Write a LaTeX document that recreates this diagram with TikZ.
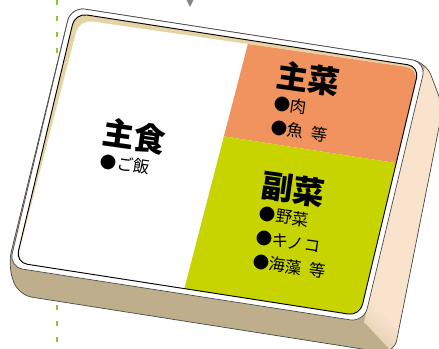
\documentclass[tikz,border=0pt]{standalone}
\usepackage{fontspec}
\newfontfamily\jpfont{Noto Sans CJK JP}
\usetikzlibrary{arrows.meta}

\definecolor{rimline}{HTML}{4A4A4A}
\definecolor{wallcol}{HTML}{E6D3A3}
\definecolor{bottomcol}{HTML}{BFAE8C}
\definecolor{sidecol}{HTML}{FAE3CC}
\definecolor{maincol}{HTML}{F0935E}
\definecolor{sidedishcol}{HTML}{C8D400}
\definecolor{guidecol}{HTML}{8CC63F}
\definecolor{arrowgray}{HTML}{858585}

\pgfdeclareverticalshading{sideshade}{100bp}{color(0bp)=(bottomcol); color(6bp)=(bottomcol); color(26bp)=(sidecol); color(100bp)=(sidecol)}

\tikzset{
  head/.style={font=\jpfont\bfseries\fontsize{27}{27}\selectfont, inner sep=0pt, anchor=west},
  item/.style={font=\jpfont\fontsize{14}{14}\selectfont, inner sep=0pt, anchor=west},
  outline/.style={draw=rimline, line width=0.6pt},
}
\newcommand\etcgap{\hspace{0.45em}}

\begin{document}
\begin{tikzpicture}[x=0.03cm, y=-0.03cm, line join=round]
  \useasboundingbox (0,0) rectangle (439,349);
  \clip (0,0) rectangle (439,349);

  % guide line and arrow behind the box
  \coordinate (guidetop) at (57,0);
  \coordinate (guidebot) at (57,349);
  \draw[guidecol, line width=1.7pt, dash pattern=on 4.3pt off 9.4pt] (guidetop) -- (guidebot);
  \coordinate (arrowtail) at (190,-30);
  \coordinate (arrowtip) at (190,7);
  \draw[arrowgray, line width=1pt, -{Triangle[length=6pt,width=5.5pt]}] (arrowtail) -- (arrowtip);

  % box body
  \coordinate (bodyTL) at (71,7);
  \coordinate (bodyTR) at (426,62);
  \coordinate (bodyRR) at (443,107);
  \coordinate (bodyBR) at (394,354);
  \coordinate (bodyBL) at (18,295);
  \coordinate (bodyLL) at (8,265);
  \coordinate (rimBR) at (364,322);
  \begin{scope}
    \clip[rounded corners=12pt] (bodyTL) -- (bodyTR) -- (bodyRR) -- (bodyBR) -- (bodyBL) -- (bodyLL) -- cycle;
    \fill[bottomcol] (0,0) rectangle (460,360);
    \shade[shading=sideshade, shading angle=-40] (bodyTR) -- (bodyRR) -- (bodyBR) -- (rimBR) -- cycle;
  \end{scope}
  \draw[outline, rounded corners=12pt] (bodyTL) -- (bodyTR) -- (bodyRR) -- (bodyBR) -- (bodyBL) -- (bodyLL) -- cycle;

  % rim and compartments
  \begin{scope}[shift={(71,7)}, x={(10.65cm,-1.65cm)}, y={(-1.86cm,-7.8cm)}]
    \filldraw[fill=white, outline, rounded corners=12pt] (0,0) -- (1,0) -- (1,1) -- (0,1) -- cycle;
    \fill[wallcol, rounded corners=10pt] (0.0154,0.0206) -- (0.9846,0.0206) -- (0.9846,0.9794) -- (0.0154,0.9794) -- cycle;
    \begin{scope}
      \clip[rounded corners=11pt] (0.031,0.042) -- (0.9846,0.029) -- (0.9846,0.9794) -- (0.017,0.9794) -- cycle;
      \fill[white] (-0.1,-0.1) -- (1.1,-0.1) -- (1.1,1.1) -- (-0.1,1.1) -- cycle;
      \fill[maincol] (0.5065,-0.1) -- (1.1,-0.1) -- (1.1,0.392) -- (0.4991,0.392) -- cycle;
      \fill[sidedishcol] (0.4991,0.392) -- (1.1,0.392) -- (1.1,1.1) -- (0.4885,1.1) -- cycle;
    \end{scope}
    \draw[black, line width=0.8pt, rounded corners=10pt] (0.0154,0.0206) -- (0.9846,0.0206) -- (0.9846,0.9794) -- (0.0154,0.9794) -- cycle;
  \end{scope}

  % labels
  \begin{scope}[shift={(103,132)}, rotate=-8, transform shape]
    \node[head] (shushoku) at (0,0) {主食};
    \node[item] (gohan) at (1.5,29) {●ご飯};
  \end{scope}
  \begin{scope}[shift={(277,74)}, rotate=-8, transform shape]
    \node[head] (shusai) at (0,0) {主菜};
    \node[item] (niku) at (1.5,29.5) {●肉};
    \node[item] (sakana) at (1.5,53.8) {●魚\etcgap 等};
  \end{scope}
  \begin{scope}[shift={(262,185)}, rotate=-8, transform shape]
    \node[head] (fukusai) at (0,0) {副菜};
    \node[item] (yasai) at (1.5,28.5) {●野菜};
    \node[item] (kinoko) at (1.5,52.7) {●キノコ};
    \node[item] (kaiso) at (1.5,76.9) {●海藻\etcgap 等};
  \end{scope}
\end{tikzpicture}
\end{document}
